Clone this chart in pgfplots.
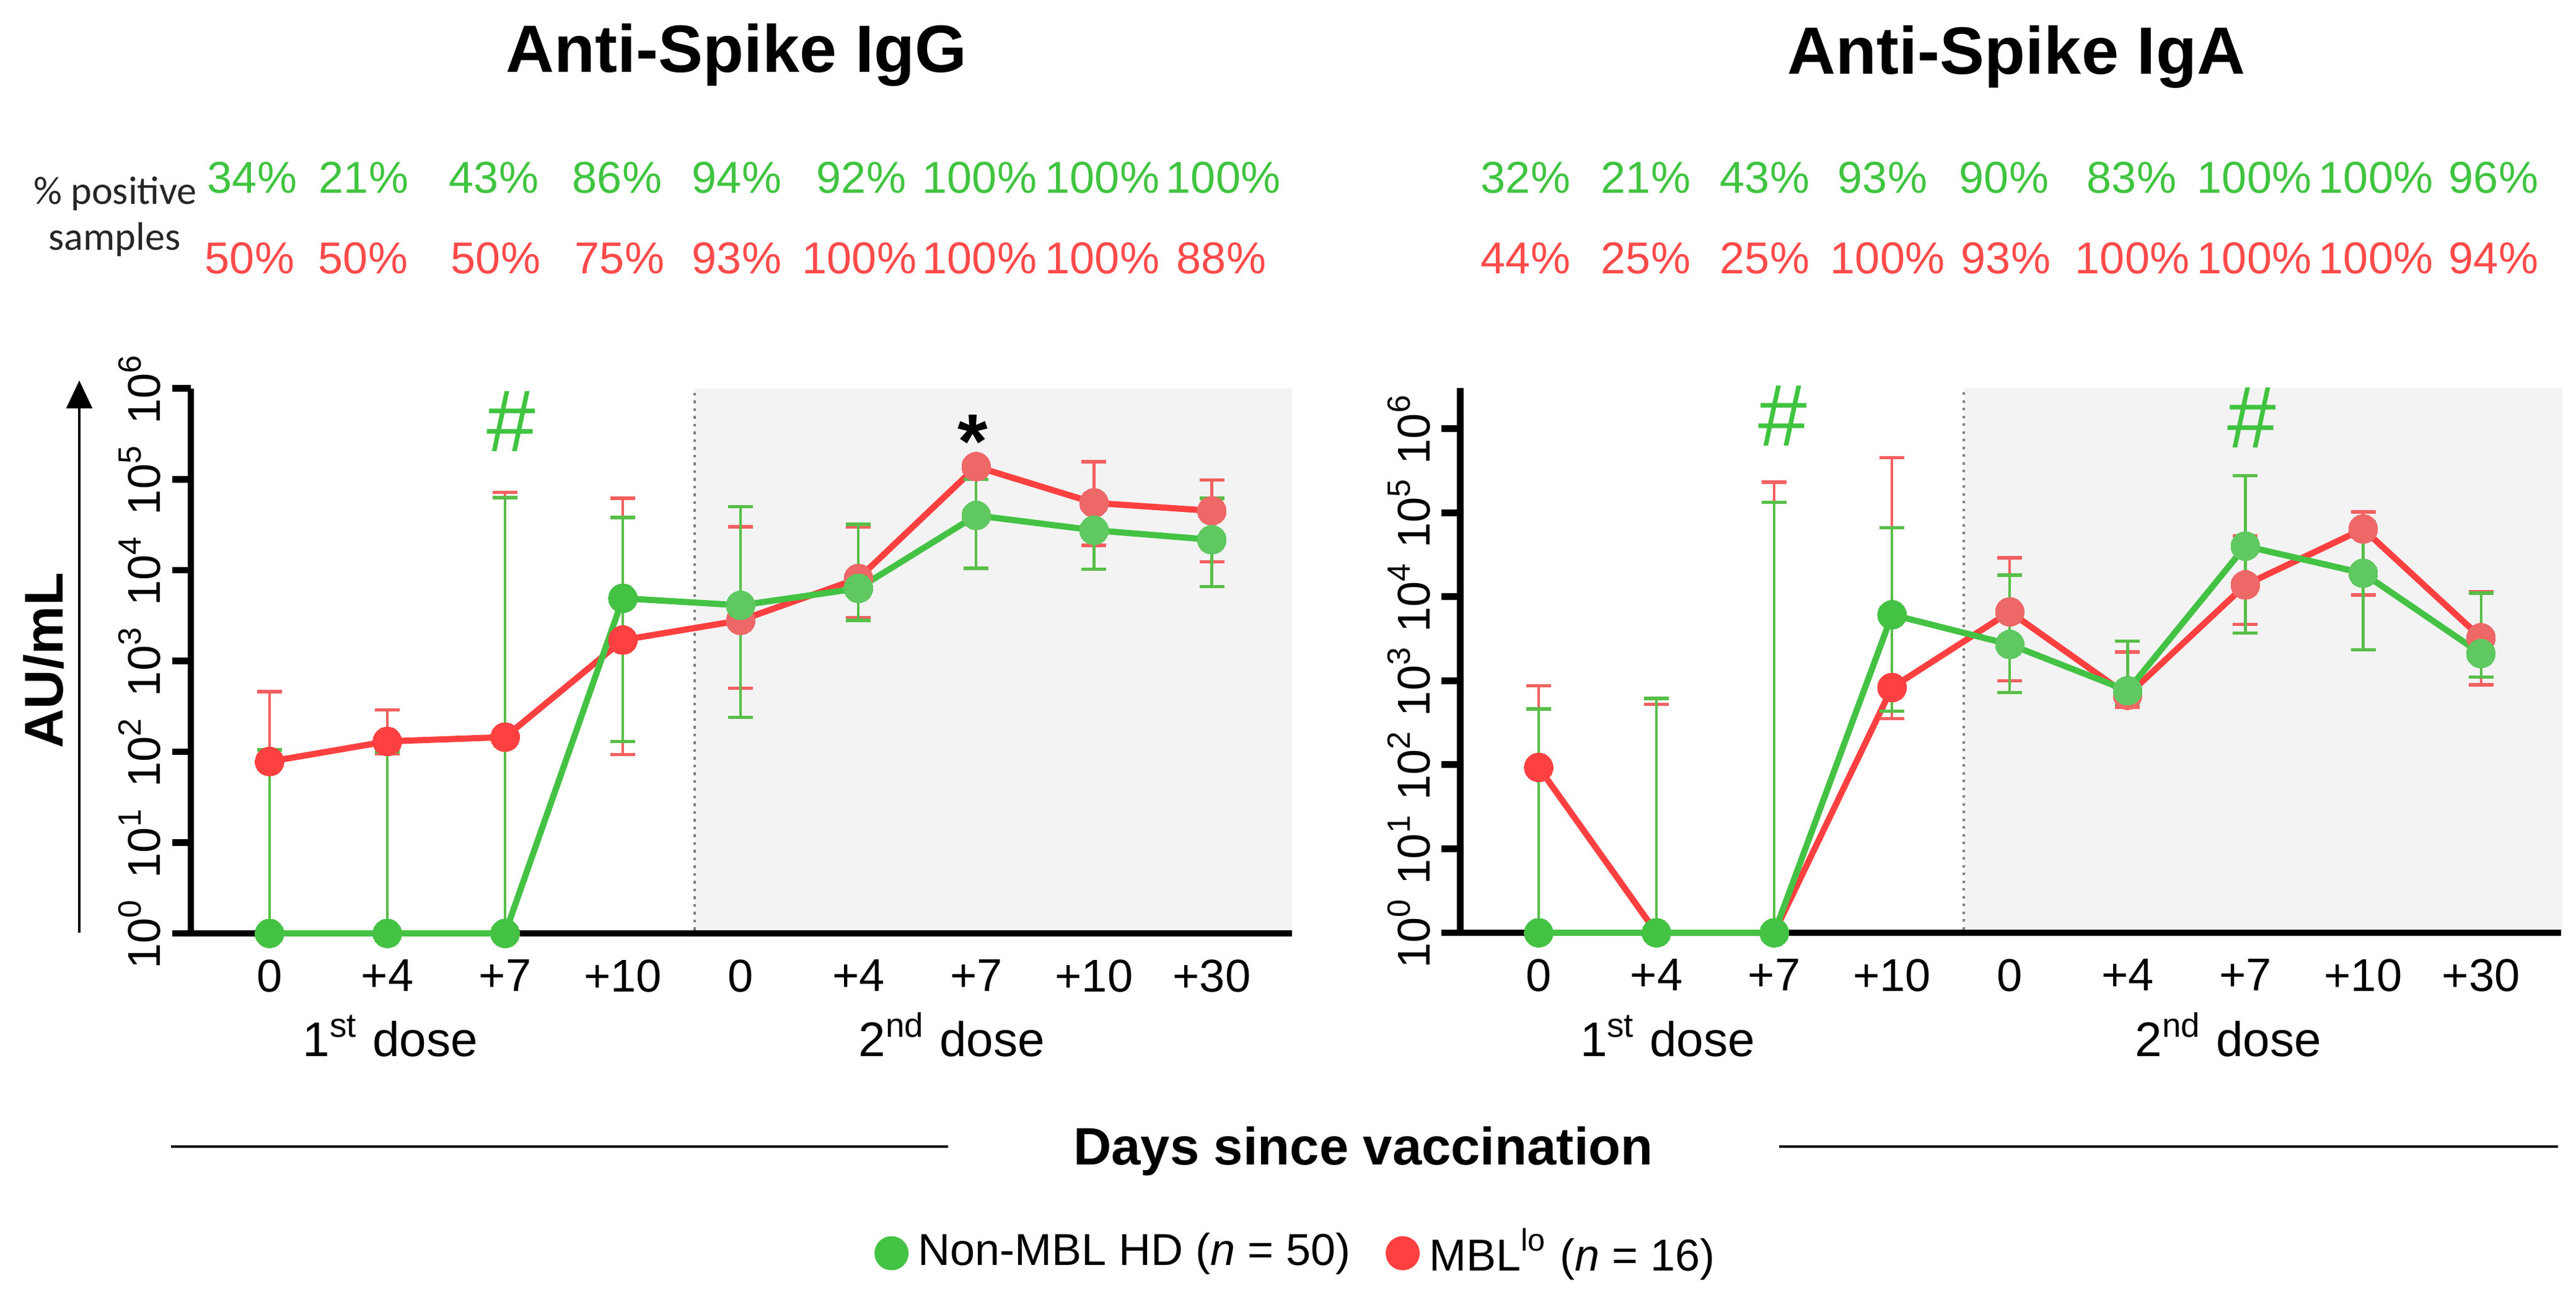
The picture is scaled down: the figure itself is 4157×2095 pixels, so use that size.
\documentclass[border=0pt]{standalone}
\usepackage{fontspec}
\setmainfont{Liberation Sans}
\newfontfamily\calibri{Carlito}
\usepackage{pgfplots}
\pgfplotsset{compat=1.18}
\usepackage{pgfplotstable}
\usetikzlibrary{arrows.meta}

\definecolor{gline}{RGB}{68,194,68}
\definecolor{rline}{RGB}{255,64,64}
\definecolor{glight}{RGB}{96,200,96}
\definecolor{rlight}{RGB}{238,104,104}
\definecolor{gerr}{RGB}{88,190,72}
\definecolor{rerr}{RGB}{242,96,96}
\definecolor{gtext}{RGB}{64,196,64}
\definecolor{rtext}{RGB}{255,74,74}
\definecolor{shade}{RGB}{243,243,243}

% x = time point index, y = AU/mL, ep/em = upper/lower error
\pgfplotstableread{
x y ep em
0 1 104 0
1 1 99 0
2 1 62999 0
3 4900 33100 4770
4 4100 45900 3860
5 6300 25700 3500
6 40000 60000 29500
7 27500 33500 17300
8 21600 40400 15000
}\IgGg
\pgfplotstableread{
x y ep em
0 78 382 0
1 130 160 35
2 145 71855 0
3 1700 60300 1607
4 2800 27200 2300
5 8100 21900 5100
6 138000 0 0
7 55000 101000 36300
8 45000 53000 32700
}\IgGr
\pgfplotstableread{
x y ep em
0 1 459 0
1 1 614 0
2 1 132999 0
3 6100 59900 5665
4 2700 15300 1980
5 760 2190 235
6 40000 235000 36300
7 19000 59000 16660
8 2100 8900 1000
}\IgAg
\pgfplotstableread{
x y ep em
0 93 777 0
1 1 524 0
2 1 229999 0
3 830 449170 475
4 6600 22400 5600
5 670 1530 190
6 13800 39200 9100
7 64000 38000 53500
8 3250 8250 2360
}\IgAr

\pgfplotsset{
  mypanel/.style={
    scale only axis, width=213.2pt, height=105.5pt,
    ymin=1, xmin=-0.668, xmax=8.68,
    axis lines*=left,
    axis line style={line width=1.3pt},
    clip=false,
    xtick={0,1,2,3,4,5,6,7,8},
    xticklabels={0,+4,+7,+10,0,+4,+7,+10,+30},
    xtick style={draw=none},
    ytick={1,10,100,1000,10000,100000,1000000},
    yticklabels={10\textsuperscript{0},10\textsuperscript{1},10\textsuperscript{2},10\textsuperscript{3},10\textsuperscript{4},10\textsuperscript{5},10\textsuperscript{6}},
    minor ytick={},
    minor y tick style={draw=none},
    ytick style={line width=1.3pt,black},
    tick align=outside, major tick length=3.6pt,
    ytick pos=left, xtick pos=bottom,
    tick label style={font=\fontsize{8.9}{10}\selectfont},
    y tick label style={rotate=90,anchor=south,inner sep=2pt},
    x tick label style={yshift=2pt},
  },
  gser/.style={forget plot, color=gline, line width=1.2pt, mark=*, mark size=2.8pt,
    mark options={fill=gline,draw=gline,line width=0pt},
    error bars/y dir=both, error bars/y explicit,
    error bars/error bar style={line width=0.5pt,color=gerr},
    error bars/error mark options={rotate=90,mark size=2.4pt,line width=0.65pt,color=gerr}},
  rser/.style={forget plot, color=rline, line width=1.2pt, mark=*, mark size=2.8pt,
    mark options={fill=rline,draw=rline,line width=0pt},
    error bars/y dir=both, error bars/y explicit,
    error bars/error bar style={line width=0.5pt,color=rerr},
    error bars/error mark options={rotate=90,mark size=2.4pt,line width=0.65pt,color=rerr}},
  glt/.style={forget plot, only marks, mark=*, mark size=2.8pt,
    mark options={fill=glight,draw=glight,line width=0pt}, restrict x to domain=3.5:8.5},
  rlt/.style={forget plot, only marks, mark=*, mark size=2.8pt,
    mark options={fill=rlight,draw=rlight,line width=0pt}, restrict x to domain=3.5:8.5},
}

\begin{document}
\begin{tikzpicture}
\begin{scope}[x=0.12pt,y=-0.12pt]
\useasboundingbox (0,0) rectangle (4157,2095);
\end{scope}

% ---------- Left panel: IgG ----------
\begin{semilogyaxis}[mypanel, at={(36.96pt,-180.72pt)}, anchor=south west, ymax=1000000,
  legend columns=2,
  legend style={at={(1.0078,-0.587)}, anchor=center, draw=none, fill=none,
    font=\fontsize{8.64}{10}\selectfont,
    /tikz/every even column/.append style={column sep=5pt}}]
\addplot[forget plot, draw=none, fill=shade]
  coordinates {(3.61,1.09) (8.68,1.09) (8.68,1000000) (3.61,1000000)};
\addplot[forget plot, densely dotted, color=gray, line width=0.5pt]
  coordinates {(3.61,1.09) (3.61,1000000)};
\addplot[rser] table[x=x,y=y,y error plus=ep,y error minus=em]{\IgGr};
\addplot[rlt] table[x=x,y=y]{\IgGr};
\addplot[gser] table[x=x,y=y,y error plus=ep,y error minus=em]{\IgGg};
\addplot[glt] table[x=x,y=y]{\IgGg};
\addlegendimage{only marks, mark=*, mark size=3.1pt, color=gline, fill=gline}
\addlegendentry{Non-MBL HD (\textit{n} = 50)}
\addlegendimage{only marks, mark=*, mark size=3.1pt, color=rline, fill=rline}
\addlegendentry{MBL\textsuperscript{lo} (\textit{n} = 16)}
\end{semilogyaxis}

% ---------- Right panel: IgA ----------
\begin{semilogyaxis}[mypanel, at={(282.72pt,-180.6pt)}, anchor=south west, ymax=3054921]
\addplot[forget plot, draw=none, fill=shade]
  coordinates {(3.61,1.09) (8.69,1.09) (8.69,3054921) (3.61,3054921)};
\addplot[forget plot, densely dotted, color=gray, line width=0.5pt]
  coordinates {(3.61,1.09) (3.61,3054921)};
\addplot[rser] table[x=x,y=y,y error plus=ep,y error minus=em]{\IgAr};
\addplot[rlt] table[x=x,y=y]{\IgAr};
\addplot[gser] table[x=x,y=y,y error plus=ep,y error minus=em]{\IgAg};
\addplot[glt] table[x=x,y=y]{\IgAg};
\end{semilogyaxis}

\begin{scope}[x=0.12pt,y=-0.12pt]
% titles
\node[anchor=base, font=\fontsize{12.96}{15}\selectfont\bfseries] at (1189,117) {Anti-Spike IgG};
\node[anchor=base, font=\fontsize{12.96}{15}\selectfont\bfseries] at (3254,120) {Anti-Spike IgA};
% % positive samples
\node[anchor=base, font=\calibri\fontsize{7.7}{9}\selectfont, text=black!85] at (186,330) {\% positive};
\node[anchor=base, font=\calibri\fontsize{7.7}{9}\selectfont, text=black!85] at (185,404) {samples};
\foreach \x/\t in {407/34,587/21,797/43,996/86,1189/94,1390/92,1581/100,1779/100,1974/100,
                   2462/32,2656/21,2848/43,3038/93,3234/90,3440/83,3638/100,3834/100,4024/96}
  \node[anchor=base, text=gtext, font=\fontsize{8.64}{10}\selectfont] at (\x,312) {\t\%};
\foreach \x/\t in {403/50,586/50,800/50,1000/75,1189/93,1387/100,1581/100,1779/100,1971/88,
                   2462/44,2656/25,2848/25,3046/100,3237/93,3441/100,3638/100,3834/100,4024/94}
  \node[anchor=base, text=rtext, font=\fontsize{8.64}{10}\selectfont] at (\x,442) {\t\%};
% significance marks
\node[text=gtext, font=\fontsize{17}{20}\selectfont] at (825,680) {\#};
\node[text=gtext, font=\fontsize{17}{20}\selectfont] at (2877,671) {\#};
\node[text=gtext, font=\fontsize{17}{20}\selectfont] at (3634,674) {\#};
\node[anchor=base, font=\fontsize{15}{18}\selectfont\bfseries] at (1570,756) {*};
% y label + arrow
\node[rotate=90, font=\fontsize{10.56}{12}\selectfont\bfseries] at (70,1066) {AU/mL};
\draw[line width=0.4pt, -{Triangle[width=5pt,length=5.4pt]}] (128,1505) -- (128,614);
% dose labels
\node[anchor=base, font=\fontsize{9.4}{11}\selectfont] at (630,1705) {1\textsuperscript{st} dose};
\node[anchor=base, font=\fontsize{9.4}{11}\selectfont] at (1536,1705) {2\textsuperscript{nd} dose};
\node[anchor=base, font=\fontsize{9.4}{11}\selectfont] at (2691,1705) {1\textsuperscript{st} dose};
\node[anchor=base, font=\fontsize{9.4}{11}\selectfont] at (3596,1705) {2\textsuperscript{nd} dose};
% x title
\draw[line width=0.5pt] (276,1850) -- (1530,1850);
\draw[line width=0.5pt] (2871,1850) -- (4128,1850);
\node[anchor=base, font=\fontsize{10.2}{12}\selectfont\bfseries] at (2200,1880) {Days since vaccination};
\end{scope}
\end{tikzpicture}
\end{document}
